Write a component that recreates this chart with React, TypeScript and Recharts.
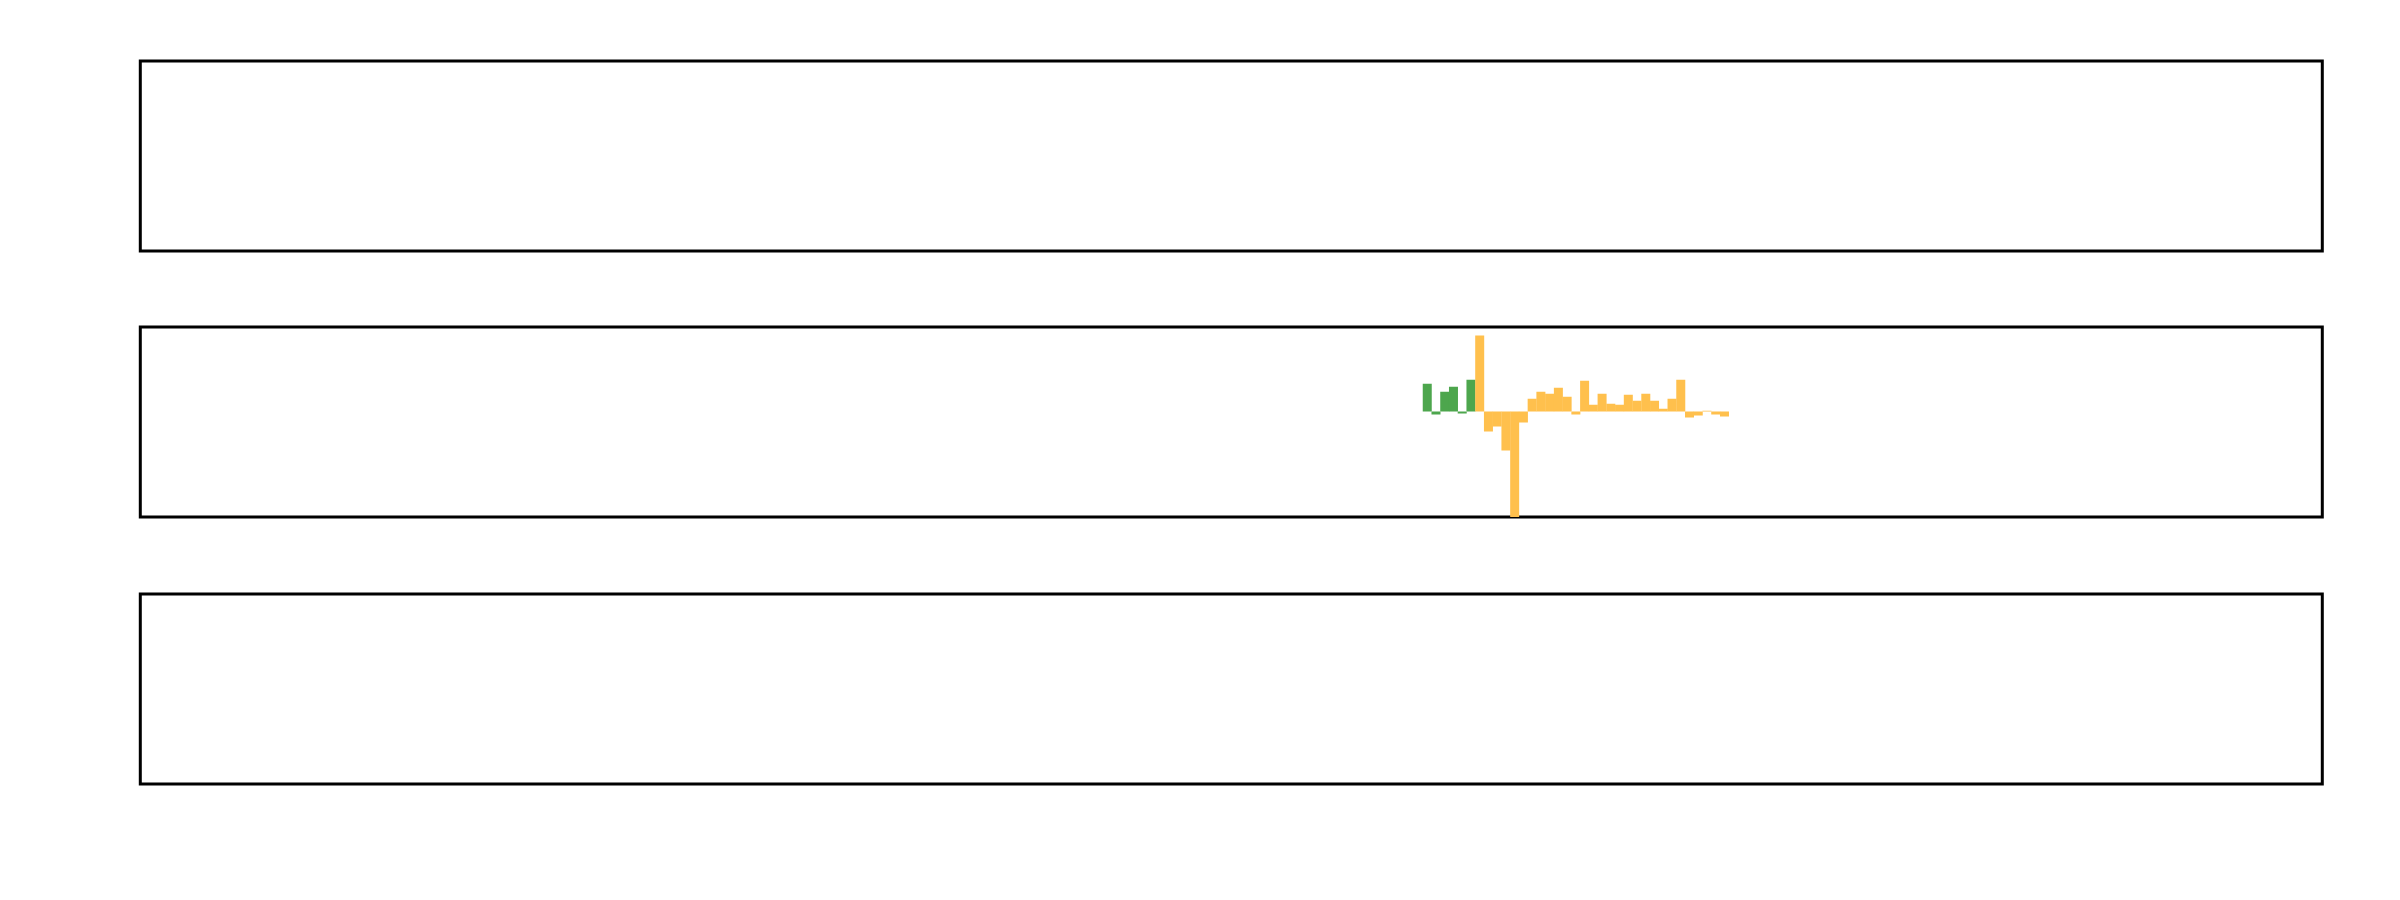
import React from 'react';
import { BarChart, Bar, XAxis, YAxis, ReferenceArea } from 'recharts';

// x positions (period index) of the bars in the middle panel
const periods = [
  147, 148, 149, 150, 151, 152, 153, 154, 155, 156, 157, 158,
  159, 160, 161, 162, 163, 164, 165, 166, 167, 168, 169, 170,
  171, 172, 173, 174, 175, 176, 177, 178, 179, 180, 181,
];

// first segment (green)
const seriesGreen = [
  0.328, -0.036, 0.233, 0.293, -0.024, 0.375, null, null, null, null, null, null,
  null, null, null, null, null, null, null, null, null, null, null, null,
  null, null, null, null, null, null, null, null, null, null, null,
];

// second segment (orange)
const seriesOrange = [
  null, null, null, null, null, null, 0.9, -0.237, -0.178, -0.462, -1.6, -0.13,
  0.15, 0.233, 0.21, 0.281, 0.174, -0.036, 0.364, 0.079, 0.21, 0.091, 0.079, 0.198,
  0.127, 0.21, 0.127, 0.032, 0.15, 0.375, -0.071, -0.047, 0.008, -0.036, -0.059,
];

const GREEN = '#4DA64D';
const ORANGE = '#FFC04D';

const X_DOMAIN: [number, number] = [-0.2, 249.4];
const Y_DOMAIN: [number, number] = [-1.25, 1.0];

const PANEL_TOPS = [60.5, 327.3, 594.0];
const PLOT_LEFT = 140.3;
const PLOT_RIGHT = 2322.3;
const PLOT_H = 190;
const PAD = 6;
const WIDTH = 2400;

const barRows = periods.map((p, i) => ({ x: p, green: seriesGreen[i], orange: seriesOrange[i] }));
const emptyRows = periods.map((p) => ({ x: p }));

function Panel({ top, rows, withBars }: { top: number; rows: any[]; withBars: boolean }) {
  return (
    <div style={{ position: 'absolute', left: 0, top: top - PAD, width: WIDTH, height: PLOT_H + 2 * PAD }}>
      <BarChart
        width={WIDTH}
        height={PLOT_H + 2 * PAD}
        data={rows}
        margin={{ top: PAD, bottom: PAD, left: PLOT_LEFT, right: WIDTH - PLOT_RIGHT }}
        barCategoryGap={0}
        barGap={0}
        stackOffset="sign"
      >
        <XAxis dataKey="x" type="number" domain={X_DOMAIN} allowDataOverflow hide />
        <YAxis type="number" domain={Y_DOMAIN} allowDataOverflow hide />
        {withBars && (
          <Bar dataKey="green" stackId="s" fill={GREEN} isAnimationActive={false} />
        )}
        {withBars && (
          <Bar dataKey="orange" stackId="s" fill={ORANGE} isAnimationActive={false} />
        )}
        <ReferenceArea
          x1={X_DOMAIN[0]}
          x2={X_DOMAIN[1]}
          y1={Y_DOMAIN[0]}
          y2={Y_DOMAIN[1]}
          fill="none"
          fillOpacity={0}
          stroke="#000000"
          strokeWidth={3}
          ifOverflow="visible"
        />
      </BarChart>
    </div>
  );
}

export default function App() {
  return (
    <div style={{ position: 'absolute', left: 0, top: 0, width: WIDTH, height: 900, background: '#ffffff' }}>
      <Panel top={PANEL_TOPS[0]} rows={emptyRows} withBars={false} />
      <Panel top={PANEL_TOPS[1]} rows={barRows} withBars={true} />
      <Panel top={PANEL_TOPS[2]} rows={emptyRows} withBars={false} />
    </div>
  );
}
